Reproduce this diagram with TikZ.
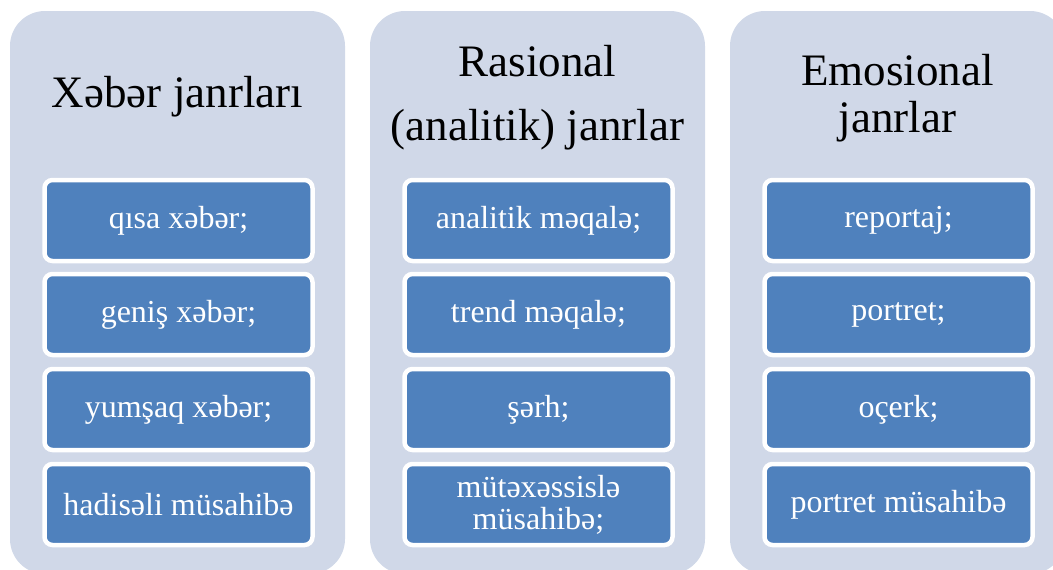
\documentclass[tikz,border=0pt]{standalone}
\usepackage{fontspec}
\setmainfont{Liberation Serif}
\usepackage{xcolor}
\definecolor{panelgray}{HTML}{D0D8E8}
\definecolor{itemblue}{HTML}{4F81BD}

\begin{document}
\begin{tikzpicture}[x=1pt, y=-1pt,
        panel/.style={fill=panelgray, rounded corners=35pt},
        heading/.style={align=center, anchor=base, text=black},
        item/.style={fill=itemblue, draw=white, line width=4.5pt, rounded corners=8pt,
            minimum width=268pt, minimum height=81pt, inner sep=0pt,
            text=white, align=center, font=\fontsize{32}{32}\selectfont}]

    % Parameters
    \def\W{1053} % picture width
    \def\H{570}  % picture height
    \def\panelW{335} % width of one panel

    % Panel centres (x) and item rows (y)
    \def\colA{178.5}
    \def\colB{538.5}
    \def\colC{898.5}
    \def\rowA{220.5}
    \def\rowB{314.5}
    \def\rowC{409.5}
    \def\rowD{504.5}

    \useasboundingbox (0,0) rectangle (\W,\H);
    \clip (0,0) rectangle (\W,\H);

    % Draw the three panels
    \fill[panel] (10,11) rectangle ++(\panelW,563);
    \fill[panel] (370,11) rectangle ++(\panelW,563);
    \fill[panel] (730,11) rectangle ++(\panelW,563);

    % Headings
    \node[heading, font=\fontsize{45}{54}\selectfont] (newsHead) at (177.5,107) {Xəbər janrları};
    \node[heading, font=\fontsize{45}{64}\selectfont] (ratioHead) at (537.5,140) {Rasional\\(analitik) janrlar};
    \node[heading, font=\fontsize{45}{47}\selectfont] (emoHead) at (897.5,132) {Emosional\\janrlar};

    % News genres
    \node[item] (news1) at (\colA,\rowA) {qısa xəbər;};
    \node[item] (news2) at (\colA,\rowB) {geniş xəbər;};
    \node[item] (news3) at (\colA,\rowC) {yumşaq xəbər;};
    \node[item] (news4) at (\colA,\rowD) {hadisəli müsahibə};

    % Rational (analytic) genres
    \node[item] (ratio1) at (\colB,\rowA) {analitik məqalə;};
    \node[item] (ratio2) at (\colB,\rowB) {trend məqalə;};
    \node[item] (ratio3) at (\colB,\rowC) {şərh;};
    \node[item] (ratio4) at (\colB,\rowD) {mütəxəssislə\\müsahibə;};

    % Emotional genres
    \node[item] (emo1) at (\colC,\rowA) {reportaj;};
    \node[item] (emo2) at (\colC,\rowB) {portret;};
    \node[item] (emo3) at (\colC,\rowC) {oçerk;};
    \node[item] (emo4) at (\colC,\rowD) {portret müsahibə};

\end{tikzpicture}
\end{document}
